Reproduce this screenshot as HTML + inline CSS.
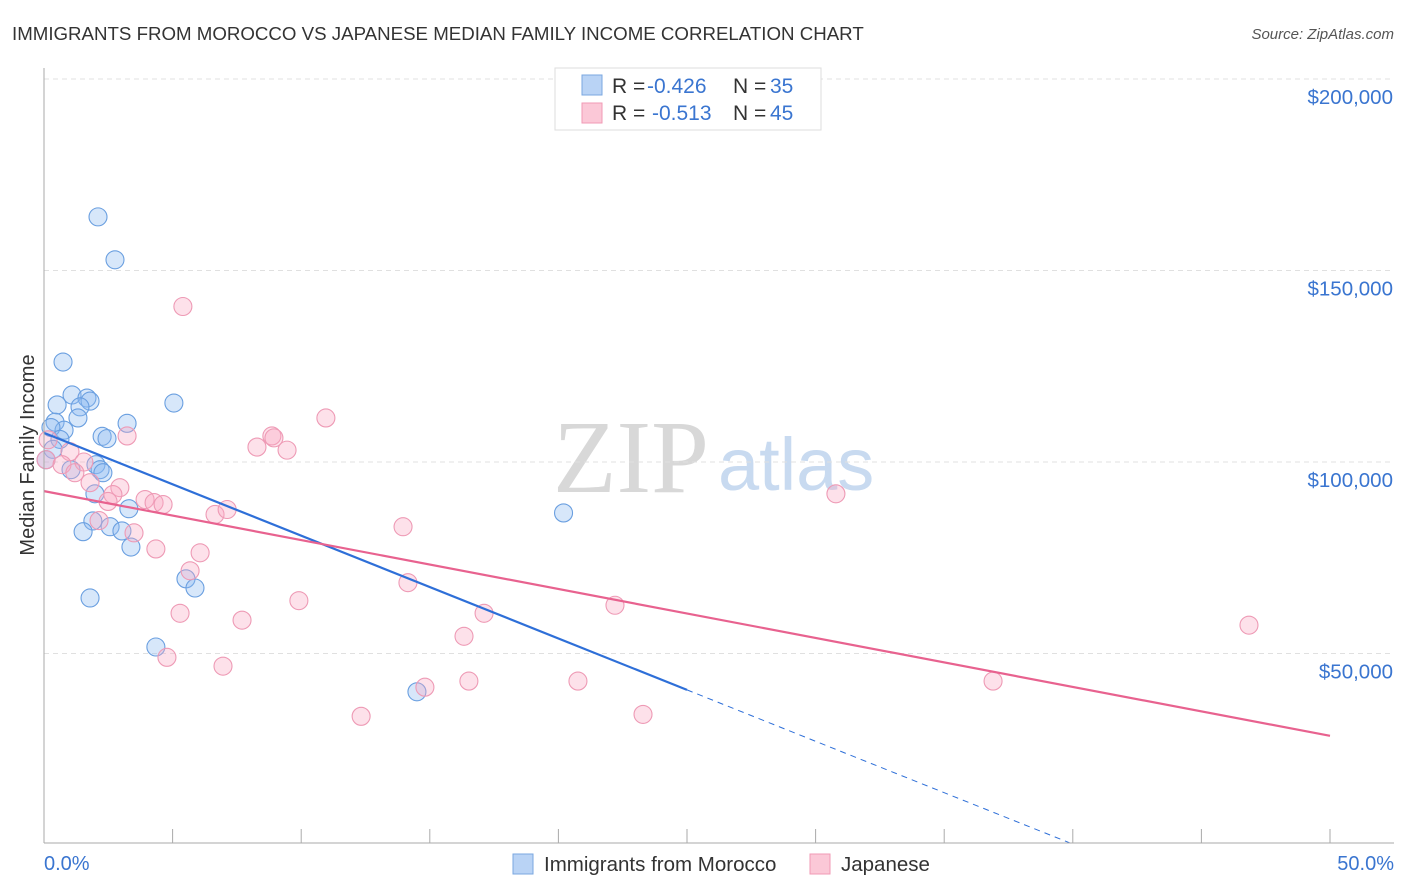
<!DOCTYPE html>
<html><head><meta charset="utf-8"><style>
body{margin:0;background:#fff;font-family:"Liberation Sans",sans-serif;}
#wrap{position:relative;width:1406px;height:892px;overflow:hidden;}
</style></head><body>
<div id="wrap">
<svg id="svg" width="1406" height="892" xmlns="http://www.w3.org/2000/svg">
<text x="12" y="40" font-size="18.7" fill="#333">IMMIGRANTS FROM MOROCCO VS JAPANESE MEDIAN FAMILY INCOME CORRELATION CHART</text>
<text x="1394" y="39" font-size="15" fill="#555" font-style="italic" text-anchor="end">Source: ZipAtlas.com</text>
<text x="553" y="492" font-size="104" fill="#d8d8d8" font-family="Liberation Serif,serif">ZIP</text>
<text x="718" y="490" font-size="74" fill="#c8daf0">atlas</text>
<text transform="translate(34,455) rotate(-90)" font-size="20" fill="#333" text-anchor="middle">Median Family Income</text>
<g id="grid"></g><g id="pts"></g><g id="lines"></g>
<line x1="44" y1="68" x2="44" y2="843" stroke="#aaa"/>
<line x1="44" y1="843" x2="1394" y2="843" stroke="#aaa"/>
<text x="44" y="870" font-size="20" fill="#3a75d0">0.0%</text>
<text x="1394" y="870" font-size="20" fill="#3a75d0" text-anchor="end">50.0%</text>
<g>
<rect x="555" y="68" width="266" height="62" fill="#fff" stroke="#ddd"/>
<rect x="582" y="75" width="20" height="20" fill="#b9d3f5" stroke="#7aa7e0"/>
<rect x="582" y="103" width="20" height="20" fill="#fbc8d7" stroke="#f09ab4"/>
<text x="612" y="93" font-size="21" fill="#333">R =</text>
<text x="647" y="93" font-size="21" fill="#3a75d0">-0.426</text>
<text x="733" y="93" font-size="21" fill="#333">N =</text>
<text x="770" y="93" font-size="21" fill="#3a75d0">35</text>
<text x="612" y="120" font-size="21" fill="#333">R =</text>
<text x="652" y="120" font-size="21" fill="#3a75d0">-0.513</text>
<text x="733" y="120" font-size="21" fill="#333">N =</text>
<text x="770" y="120" font-size="21" fill="#3a75d0">45</text>
</g>
<g>
<rect x="513" y="854" width="20" height="20" fill="#b9d3f5" stroke="#7aa7e0"/>
<text x="544" y="871" font-size="20.5" fill="#333">Immigrants from Morocco</text>
<rect x="810" y="854" width="20" height="20" fill="#fbc8d7" stroke="#f09ab4"/>
<text x="841" y="871" font-size="20.5" fill="#333">Japanese</text>
</g>
</svg></div>
<script>
const yTicks=[50000,100000,150000,200000];
const yTickLabels=["$50,000","$100,000","$150,000","$200,000"];
const xTicks=[0,5,10,15,20,25,30,35,40,45,50];
const blueX=[2.1,2.76,0.74,5.05,1.09,0.51,1.67,1.79,1.4,1.32,0.43,0.78,3.23,0.27,2.26,2.45,0.62,0.35,0.08,2.02,2.18,1.05,2.29,1.98,3.3,1.9,1.52,2.57,3.03,3.38,5.52,5.87,1.79,4.35,14.5,20.2];
const blueY=[164000,152800,126100,115400,117500,114900,116700,115900,114400,111500,110400,108300,110100,109000,106700,106100,105900,103300,100600,99300,98000,98000,97200,91700,87800,84600,81800,83100,82000,77800,69500,67100,64500,51700,40000,86700];
const pinkX=[5.4,10.96,3.23,8.86,8.94,8.28,9.45,0.16,0.08,1.01,1.55,0.7,1.2,1.79,2.95,2.68,3.93,4.28,4.63,2.49,6.65,7.12,2.14,3.5,4.35,6.07,13.96,30.79,5.68,14.15,9.91,22.2,5.29,17.11,7.7,16.33,4.78,6.96,14.81,16.52,20.76,36.9,12.33,23.29,46.85];
const pinkY=[140600,111500,106800,106800,106300,103900,103100,105800,100600,102700,100000,99300,97200,94600,93300,91500,90200,89400,88900,89700,86300,87600,84700,81500,77300,76300,83100,91700,71600,68500,63800,62600,60500,60500,58700,54500,49000,46700,41200,42800,42800,42800,33600,34100,57400];
const blueFit=[107600,40500,0];
const pinkFit=[92400,28500];
const X=p=>44+p*25.72, Y=v=>845-v*0.00383;
const NS="http://www.w3.org/2000/svg";
function mk(t,a,parent){const e=document.createElementNS(NS,t);for(const k in a)e.setAttribute(k,a[k]);parent.appendChild(e);return e;}
const grid=document.getElementById('grid'),pts=document.getElementById('pts'),lines=document.getElementById('lines');
yTicks.forEach((v,i)=>{
 const l=mk('line',{x1:44,x2:1394,y1:Y(v),y2:Y(v),stroke:'#e0e0e0','stroke-dasharray':'5,4'},grid);
 
 
 const t=mk('text',{x:1393,y:Y(v)+25,'font-size':20.5,fill:'#3a75d0','text-anchor':'end'},grid);
 t.textContent=yTickLabels[i];
 
 
});
xTicks.forEach(p=>{
 const l=mk('line',{x1:X(p),x2:X(p),y1:829,y2:843,stroke:'#aaa'},grid);
 
 
});
blueX.forEach((x,i)=>{
 const c=mk('circle',{cx:X(x),cy:Y(blueY[i]),r:9,fill:'rgba(140,185,240,0.35)',stroke:'#6a9fe0','stroke-width':1.1},pts);
 
 
});
pinkX.forEach((x,i)=>{
 const c=mk('circle',{cx:X(x),cy:Y(pinkY[i]),r:9,fill:'rgba(248,170,195,0.35)',stroke:'#ee9ab5','stroke-width':1.1},pts);
 
 
});
let l1=mk('line',{x1:X(0),y1:Y(blueFit[0]),x2:X(25),y2:Y(blueFit[1]),stroke:'#2e6fd8','stroke-width':2.2},lines);


const xEnd=25*blueFit[0]/(blueFit[0]-blueFit[1]);
let l2=mk('line',{x1:X(25),y1:Y(blueFit[1]),x2:X(xEnd),y2:Y(blueFit[2]),stroke:'#2e6fd8','stroke-width':1,'stroke-dasharray':'6,5'},lines);


let l3=mk('line',{x1:X(0),y1:Y(pinkFit[0]),x2:X(50),y2:Y(pinkFit[1]),stroke:'#e8628f','stroke-width':2.2},lines);


</script>
</body></html>
